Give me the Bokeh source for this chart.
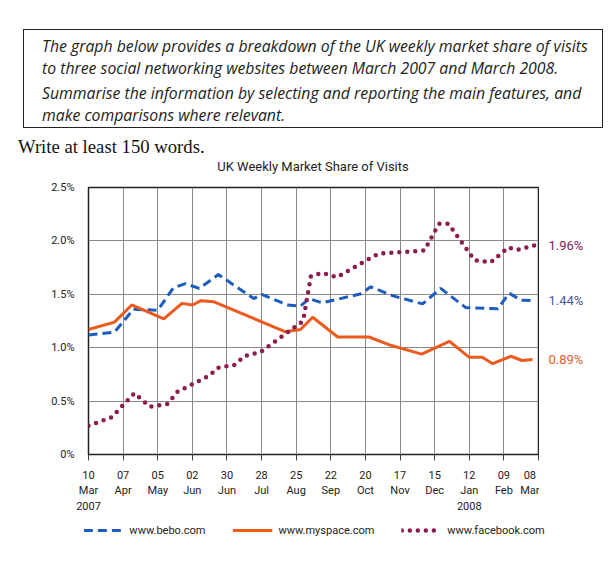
from bokeh.plotting import figure
from bokeh.models import FixedTicker, Legend, LegendItem, Div, Range1d
from bokeh.layouts import column, row
from bokeh.embed import file_html
from bokeh.resources import INLINE

# ---- data (weeks since 10 Mar 2007, market share in %) ----
bebo_wk = [0, 3, 5.2, 8, 9.8, 11.2, 12.8, 15, 19.1, 20, 23, 24.5, 25.5, 27, 31.5,
           32.6, 35.2, 38.6, 40.7, 43.6, 47.3, 48.6, 50, 51.4]
bebo_val = [1.12, 1.145, 1.36, 1.35, 1.56, 1.60, 1.555, 1.685, 1.46, 1.50, 1.40, 1.39,
            1.46, 1.42, 1.505, 1.57, 1.485, 1.41, 1.555, 1.375, 1.365, 1.51, 1.445, 1.44]

myspace_wk = [0, 3, 5, 8.7, 10.8, 12, 13, 14.5, 22.7, 24.5, 25.9, 28.8, 32.4, 35,
              38.5, 41.7, 44, 45.5, 46.7, 48.8, 50.1, 51.3]
myspace_val = [1.17, 1.24, 1.40, 1.27, 1.415, 1.40, 1.44, 1.43, 1.15, 1.17, 1.285, 1.10,
               1.10, 1.02, 0.94, 1.06, 0.91, 0.91, 0.85, 0.92, 0.88, 0.89]

facebook_wk = [0, 2.7, 5.3, 7.1, 9.1, 10.3, 14, 14.9, 16.9, 18, 19.9, 24.8, 25.7, 27,
               28.7, 32.6, 33.5, 38.8, 40.5, 41.6, 44.6, 46.5, 48.5, 49.5, 51.6]
facebook_val = [0.27, 0.35, 0.575, 0.447, 0.472, 0.588, 0.74, 0.81, 0.84, 0.92, 0.96,
                1.25, 1.67, 1.70, 1.66, 1.84, 1.88, 1.91, 2.16, 2.16, 1.82, 1.80, 1.94,
                1.915, 1.96]

x_ticks = [0, 4, 8, 12, 16, 20, 24, 28, 32, 36, 40, 44, 48, 52]
x_labels = ["10\nMar\n2007", "07\nApr", "05\nMay", "02\nJun", "30\nJun", "28\nJul",
            "25\nAug", "22\nSep", "20\nOct", "17\nNov", "15\nDec", "12\nJan\n2008",
            "09\nFeb", "08\nMar"]
y_ticks = [0, 0.5, 1, 1.5, 2, 2.5]
y_labels = ["0%", "0.5%", "1.0%", "1.5%", "2.0%", "2.5%"]

end_values = [1.96, 1.44, 0.89]
end_labels = ["1.96%", "1.44%", "0.89%"]

series_names = ["www.bebo.com", "www.myspace.com", "www.facebook.com"]

chart_title = "UK Weekly Market Share of Visits"
task_lines = ["The graph below provides a breakdown of the UK weekly market share of visits",
              "to three social networking websites between March 2007 and March 2008.",
              "Summarise the information by selecting and reporting the main features, and",
              "make comparisons where relevant."]
instruction = "Write at least 150 words."

BLUE = "#1f5cc0"
ORANGE = "#ec5a1e"
MAROON = "#8c1b4f"
END_COLORS = ["#7a2355", "#4a5a95", "#e0602c"]
FONT = "Roboto"

# ---------------- header (task box + chart title) ----------------
header_html = f"""
<div style="position:relative;width:609px;height:176px;">
  <div style="position:absolute;left:23px;top:29px;width:580px;height:99px;
              box-sizing:border-box;border:1.5px solid #222;"></div>
  <div style="position:absolute;left:42px;top:35px;font-family:'Open Sans';font-style:italic;
              font-size:15.8px;line-height:22px;color:#222;white-space:nowrap;">
    {task_lines[0]}<br>{task_lines[1]}
  </div>
  <div style="position:absolute;left:42px;top:82px;font-family:'Open Sans';font-style:italic;
              font-size:15.8px;line-height:22px;color:#222;white-space:nowrap;">
    {task_lines[2]}<br>{task_lines[3]}
  </div>
  <div style="position:absolute;left:18px;top:136px;font-family:'Liberation Serif';
              font-size:18.7px;line-height:22px;color:#111;white-space:nowrap;">
    {instruction}
  </div>
  <div style="position:absolute;left:88px;width:450px;top:159px;text-align:center;
              font-family:Roboto;font-size:13px;line-height:16px;color:#222;">
    {chart_title}
  </div>
</div>
"""
header = Div(text=header_html, width=609, height=176, margin=(0, 0, 0, 0))

# ---------------- main chart ----------------
yr = Range1d(0, 2.5)
p = figure(width=539, height=339, x_range=(0, 52), y_range=yr,
           output_backend="svg", toolbar_location=None,
           min_border_left=88, min_border_right=1, min_border_top=11,
           min_border_bottom=61)
p.background_fill_color = "white"
p.border_fill_color = "white"
p.outline_line_color = "#222222"
p.outline_line_width = 1.5

p.xaxis.ticker = FixedTicker(ticks=x_ticks)
p.xaxis.major_label_overrides = dict(zip(x_ticks, x_labels))
p.xaxis.axis_line_color = None
p.xaxis.major_tick_out = 6
p.xaxis.major_tick_in = 0
p.xaxis.major_tick_line_color = "#444444"
p.xaxis.minor_tick_line_color = None
p.xaxis.major_label_standoff = 8
p.xaxis.major_label_text_font = FONT
p.xaxis.major_label_text_font_size = "11px"
p.xaxis.major_label_text_color = "#222222"

p.yaxis.ticker = FixedTicker(ticks=y_ticks)
p.yaxis.major_label_overrides = dict(zip(y_ticks, y_labels))
p.yaxis.axis_line_color = None
p.yaxis.major_tick_line_color = None
p.yaxis.minor_tick_line_color = None
p.yaxis.major_label_standoff = 8
p.yaxis.major_label_text_font = FONT
p.yaxis.major_label_text_font_size = "11px"
p.yaxis.major_label_text_color = "#222222"

p.xgrid.ticker = FixedTicker(ticks=x_ticks)
p.ygrid.ticker = FixedTicker(ticks=y_ticks)
for g in (p.xgrid, p.ygrid):
    g.grid_line_color = "#8a8a8a"
    g.grid_line_width = 1

styles = [dict(line_color=BLUE, line_width=3, line_dash="9 5"),
          dict(line_color=ORANGE, line_width=3),
          dict(line_color=MAROON, line_width=4.5, line_dash="0 8", line_cap="round")]
series = [(bebo_wk, bebo_val), (myspace_wk, myspace_val), (facebook_wk, facebook_val)]
for (xs, ys), st in zip(series, styles):
    p.line(xs, ys, **st)

# ---------------- end-value labels ----------------
q = figure(width=70, height=339, x_range=(0, 1), y_range=yr,
           output_backend="svg", toolbar_location=None,
           min_border_left=0, min_border_right=0, min_border_top=11,
           min_border_bottom=61)
q.axis.visible = False
q.grid.visible = False
q.outline_line_color = None
q.background_fill_color = "white"
q.border_fill_color = "white"
q.text(x=[0] * len(end_values), y=end_values, text=end_labels, text_color=END_COLORS,
       x_offset=9, text_baseline="middle", text_font_size="13px",
       text_font={"value": FONT})

# ---------------- legend ----------------
lg = figure(width=609, height=45, x_range=(0, 52), y_range=(0, 2.5),
            output_backend="svg", toolbar_location=None,
            min_border_left=19, min_border_right=0, min_border_top=0,
            min_border_bottom=0)
lg.axis.visible = False
lg.grid.visible = False
lg.outline_line_color = None
lg.background_fill_color = "white"
lg.border_fill_color = "white"
legend_renderers = []
for (xs, ys), st in zip(series, styles):
    legend_renderers.append(lg.line(xs, ys, visible=False, **st))
legend = Legend(items=[LegendItem(label=n, renderers=[r])
                       for n, r in zip(series_names, legend_renderers)],
                orientation="horizontal", location="top_center", glyph_width=40,
                glyph_height=16, label_standoff=6, spacing=27, padding=0,
                margin=7, border_line_color=None, background_fill_alpha=0,
                inactive_fill_alpha=0,
                label_text_font=FONT, label_text_font_size="11px",
                label_text_color="#222222")
lg.add_layout(legend)

layout = column(header, row(p, q, spacing=0), lg, spacing=0)
open("out.html", "w").write(file_html(layout, INLINE))
